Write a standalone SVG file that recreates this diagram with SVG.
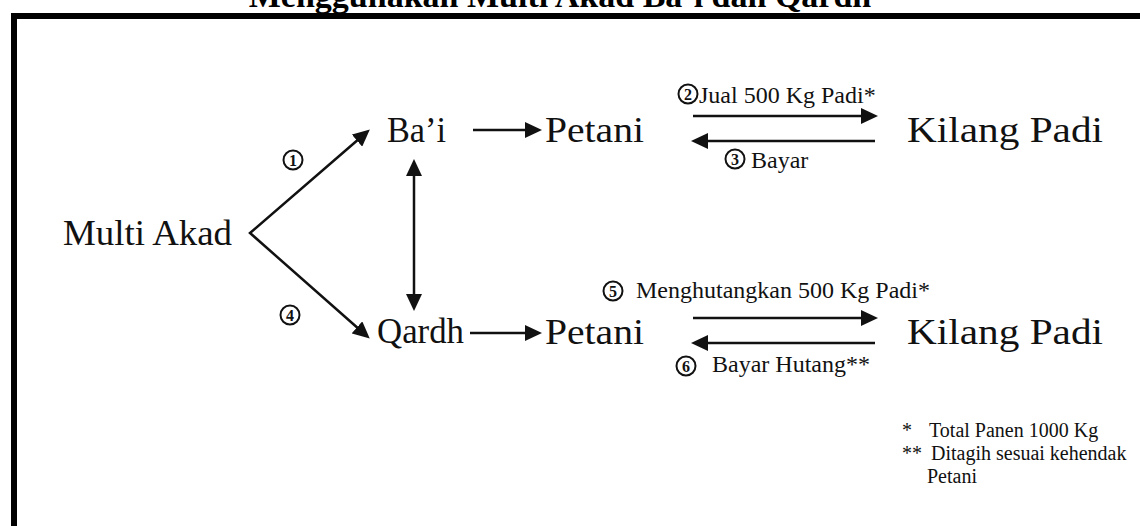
<svg xmlns="http://www.w3.org/2000/svg" width="1140" height="526" viewBox="0 0 1140 526">
  <style>
    .title { font-family: "Liberation Serif", "Times New Roman", serif; font-weight: bold; font-size: 34px; fill: #000; }
    .big { font-family: "Liberation Serif", "Times New Roman", serif; font-size: 36px; fill: #111; }
    .lbl { font-family: "Liberation Serif", "Times New Roman", serif; font-size: 24px; fill: #111; }
    .note { font-family: "Liberation Serif", "Times New Roman", serif; font-size: 20px; fill: #111; }
    .num { font-family: "Liberation Serif", "Times New Roman", serif; font-size: 16px; font-weight: bold; fill: #111; text-anchor: middle; }
    .ring { fill: #fff; stroke: #111; stroke-width: 2; }
    .conn { fill: none; stroke: #111; stroke-width: 2.5; stroke-linejoin: miter; }
  </style>
  <defs>
    <marker id="head" markerUnits="userSpaceOnUse" markerWidth="17" markerHeight="16" refX="4" refY="8" orient="auto-start-reverse">
      <path d="M0,0 L17,8 L0,16 z" fill="#111"/>
    </marker>
  </defs>

  <rect width="1140" height="526" fill="#fff"/>

  <!-- title, partly hidden above the frame -->
  <text class="title" x="560" y="7" text-anchor="middle">Menggunakan Multi Akad Ba’i dan Qardh</text>

  <!-- outer frame -->
  <rect x="14" y="16" width="1150" height="540" fill="none" stroke="#000" stroke-width="6"/>

  <!-- nodes -->
  <g id="multi-akad"><text class="big" x="63" y="245" textLength="169" lengthAdjust="spacingAndGlyphs">Multi Akad</text></g>
  <g id="bai"><text class="big" x="387" y="142" textLength="59" lengthAdjust="spacingAndGlyphs">Ba’i</text></g>
  <g id="qardh"><text class="big" x="377" y="343" textLength="87" lengthAdjust="spacingAndGlyphs">Qardh</text></g>
  <g id="petani-1"><text class="big" x="545" y="142" textLength="99" lengthAdjust="spacingAndGlyphs">Petani</text></g>
  <g id="petani-2"><text class="big" x="545" y="344" textLength="99" lengthAdjust="spacingAndGlyphs">Petani</text></g>
  <g id="kilang-1"><text class="big" x="907" y="142" textLength="196" lengthAdjust="spacingAndGlyphs">Kilang Padi</text></g>
  <g id="kilang-2"><text class="big" x="907" y="344" textLength="196" lengthAdjust="spacingAndGlyphs">Kilang Padi</text></g>

  <!-- connectors -->
  <g id="connectors">
    <path class="conn" d="M360,138 L250,233 L360,330" marker-start="url(#head)" marker-end="url(#head)"/>
    <path class="conn" d="M414,172 L414,298" marker-start="url(#head)" marker-end="url(#head)"/>
    <path class="conn" d="M473,130 L529,130" marker-end="url(#head)"/>
    <path class="conn" d="M470,333 L529,333" marker-end="url(#head)"/>
    <path class="conn" d="M693,116 L865,116" marker-end="url(#head)"/>
    <path class="conn" d="M875,141 L704,141" marker-end="url(#head)"/>
    <path class="conn" d="M693,318 L865,318" marker-end="url(#head)"/>
    <path class="conn" d="M875,343 L704,343" marker-end="url(#head)"/>
  </g>

  <!-- step labels -->
  <g id="step-1"><circle class="ring" cx="293" cy="160" r="9.5"/><text class="num" x="293" y="165.5">1</text></g>
  <g id="step-4"><circle class="ring" cx="290" cy="315" r="9.5"/><text class="num" x="290" y="320.5">4</text></g>
  <g id="step-2">
    <circle class="ring" cx="688" cy="94" r="9.5"/><text class="num" x="688" y="99.5">2</text>
    <text class="lbl" x="699" y="103">Jual 500 Kg Padi*</text>
  </g>
  <g id="step-3">
    <circle class="ring" cx="735" cy="159" r="9.5"/><text class="num" x="735" y="164.5">3</text>
    <text class="lbl" x="751" y="168">Bayar</text>
  </g>
  <g id="step-5">
    <circle class="ring" cx="613" cy="291" r="9.5"/><text class="num" x="613" y="296.5">5</text>
    <text class="lbl" x="636" y="298">Menghutangkan 500 Kg Padi*</text>
  </g>
  <g id="step-6">
    <circle class="ring" cx="686" cy="366" r="9.5"/><text class="num" x="686" y="371.5">6</text>
    <text class="lbl" x="712" y="372">Bayar Hutang**</text>
  </g>

  <!-- footnotes -->
  <g id="notes">
    <text class="note" x="902" y="437">*</text>
    <text class="note" x="929" y="437">Total Panen 1000 Kg</text>
    <text class="note" x="902" y="460">**</text>
    <text class="note" x="931" y="460">Ditagih sesuai kehendak</text>
    <text class="note" x="927" y="483">Petani</text>
  </g>
</svg>
